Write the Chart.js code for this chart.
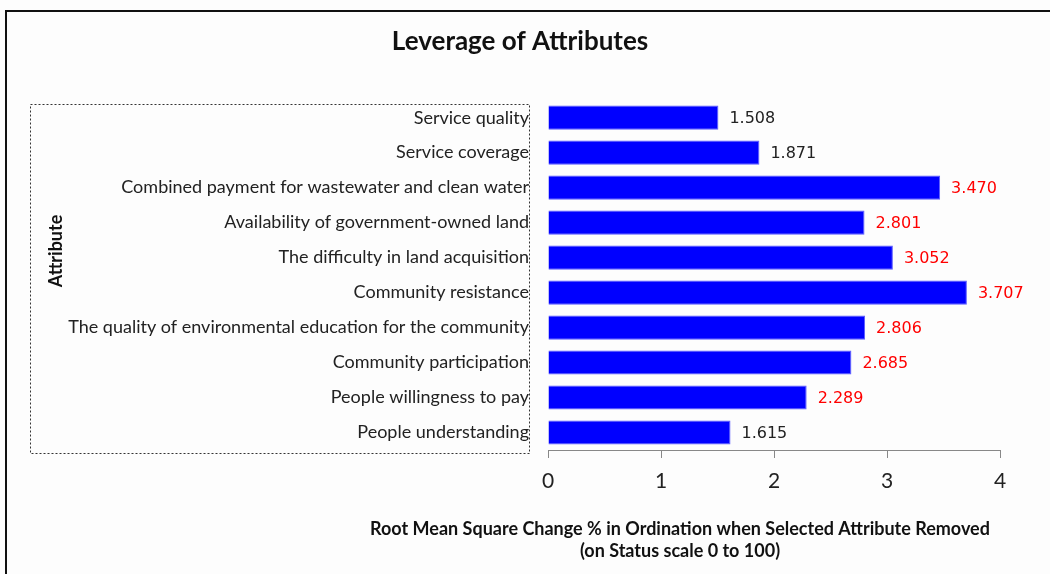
<!DOCTYPE html>
<html>
<head>
<meta charset="utf-8">
<script src="https://cdn.jsdelivr.net/npm/chart.js@4.4.1/dist/chart.umd.min.js"></script>
<style>
  html, body { margin: 0; padding: 0; background: #fdfdfd; }
  #wrap { width: 1050px; height: 574px; position: relative; }
</style>
</head>
<body>
<div id="wrap"><canvas id="chart" width="1050" height="574"></canvas></div>
<script>
const attributes = [
  'Service quality',
  'Service coverage',
  'Combined payment for wastewater and clean water',
  'Availability of government-owned land',
  'The difficulty in land acquisition',
  'Community resistance',
  'The quality of environmental education for the community',
  'Community participation',
  'People willingness to pay',
  'People understanding'
];
const rmsChange = [1.508, 1.871, 3.470, 2.801, 3.052, 3.707, 2.806, 2.685, 2.289, 1.615];
const xTicks = [0, 1, 2, 3, 4];

const chartTitle = 'Leverage of Attributes';
const yTitle = 'Attribute';
const xTitle = ['Root Mean Square Change % in Ordination when Selected Attribute Removed', '(on Status scale 0 to 100)'];

// frame, dotted label box, value labels and axis titles (Excel style)
const decorations = {
  id: 'decorations',
  beforeDraw(chart) {
    const ctx = chart.ctx;
    ctx.save();
    ctx.strokeStyle = '#111';
    ctx.lineWidth = 2;
    ctx.strokeRect(6, 11, 1100, 700);

    const area = chart.chartArea;
    ctx.strokeStyle = '#333';
    ctx.lineWidth = 1;
    ctx.setLineDash([2, 2]);
    ctx.strokeRect(30.5, 104.5, 499, area.bottom - 101);
    ctx.restore();
  },
  afterDraw(chart) {
    const ctx = chart.ctx;
    const meta = chart.getDatasetMeta(0);
    ctx.save();
    ctx.font = '16px "DejaVu Sans"';
    ctx.textBaseline = 'middle';
    ctx.textAlign = 'left';
    meta.data.forEach((bar, i) => {
      const v = rmsChange[i];
      ctx.fillStyle = v > 2 ? '#ff0000' : '#222';
      ctx.fillText(v.toFixed(3), bar.x + 11, bar.y + 1);
    });

    ctx.fillStyle = '#111';
    ctx.font = 'bold 18px Lato';
    ctx.textAlign = 'center';
    ctx.fillText(xTitle[0], 680, 529);
    ctx.fillText(xTitle[1], 680, 551);

    ctx.translate(56, 251);
    ctx.rotate(-Math.PI / 2);
    ctx.fillText(yTitle, 0, 0);
    ctx.restore();
  }
};

new Chart(document.getElementById('chart'), {
  type: 'bar',
  data: {
    labels: attributes,
    datasets: [{
      data: rmsChange,
      backgroundColor: '#0000ff',
      borderColor: '#5a5aff',
      borderWidth: 1,
      categoryPercentage: 1,
      barPercentage: 0.69
    }]
  },
  options: {
    indexAxis: 'y',
    responsive: false,
    animation: false,
    layout: { padding: { left: 40, right: 50, top: 0, bottom: 0 } },
    plugins: {
      legend: { display: false },
      tooltip: { enabled: false },
      title: {
        display: true,
        text: chartTitle,
        color: '#111',
        font: { family: 'Lato', size: 26, weight: 'bold' },
        padding: { top: 26, bottom: 43 }
      }
    },
    scales: {
      x: {
        min: 0,
        max: 4,
        afterFit(scale) { scale.height = 124; },
        afterBuildTicks(scale) { scale.ticks = xTicks.map(v => ({ value: v })); },
        grid: { drawOnChartArea: false, color: '#888', tickLength: 8 },
        border: { color: '#888', width: 1 },
        ticks: {
          color: '#222',
          padding: 11,
          font: { family: 'Lato', size: 21 }
        }
      },
      y: {
        afterFit(scale) { scale.width = 508; },
        grid: { display: false },
        border: { display: false },
        ticks: {
          color: '#222',
          padding: 11,
          font: { family: 'Lato', size: 18 }
        }
      }
    }
  },
  plugins: [decorations]
});
</script>
</body>
</html>
